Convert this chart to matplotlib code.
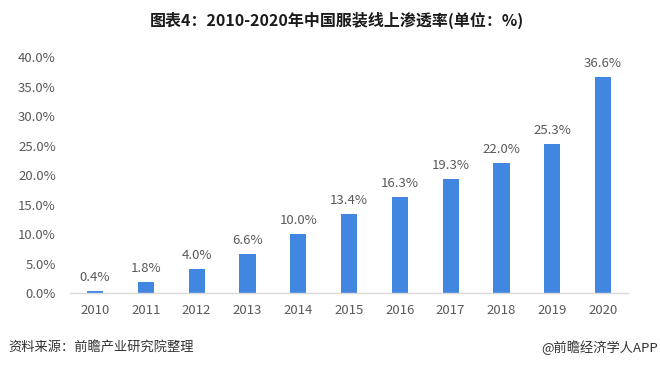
import numpy as np
import matplotlib.pyplot as plt

plt.rcParams["font.family"] = ["Noto Sans CJK SC", "DejaVu Sans"]

years = ["2010", "2011", "2012", "2013", "2014", "2015",
         "2016", "2017", "2018", "2019", "2020"]
rate = [0.4, 1.8, 4.0, 6.6, 10.0, 13.4, 16.3, 19.3, 22.0, 25.3, 36.6]
yticks = [0, 5, 10, 15, 20, 25, 30, 35, 40]

bar_c = "#4187E1"
txt_c = "#595959"

fig = plt.figure(figsize=(6.6, 3.67), dpi=100)
ax = fig.add_axes([0.1055, 0.2016, 0.8467, 0.643])

x = np.arange(len(years))
ax.bar(x, rate, width=0.32, color=bar_c)
for xi, v in zip(x, rate):
    ax.text(xi, v + 1.2, f"{v:.1f}%", ha="center", va="bottom",
            fontsize=9.5, color=txt_c)

ax.set_xlim(-0.5, len(years) - 0.5)
ax.set_ylim(0, 40)
ax.set_xticks(x)
ax.set_xticklabels(years)
ax.set_yticks(yticks)
ax.set_yticklabels([f"{t:.1f}%" for t in yticks])
ax.tick_params(axis="both", length=0, labelsize=9.5, colors=txt_c)
ax.tick_params(axis="y", pad=10)
ax.tick_params(axis="x", pad=8)

for s in ["top", "right", "left"]:
    ax.spines[s].set_visible(False)
ax.spines["bottom"].set_color("#D9D9D9")
ax.spines["bottom"].set_linewidth(1)

fig.text(0.51, 0.945, "图表4：2010-2020年中国服装线上渗透率(单位：%)",
         ha="center", va="center", fontsize=11.5, fontweight="bold",
         color="#1a1a1a")
fig.text(0.012, 0.053, "资料来源：前瞻产业研究院整理", ha="left",
         va="center", fontsize=9.5, color="#333333")
fig.text(0.997, 0.053, "@前瞻经济学人APP", ha="right",
         va="center", fontsize=9.5, color="#333333")

fig.savefig("out.png", dpi=100)
